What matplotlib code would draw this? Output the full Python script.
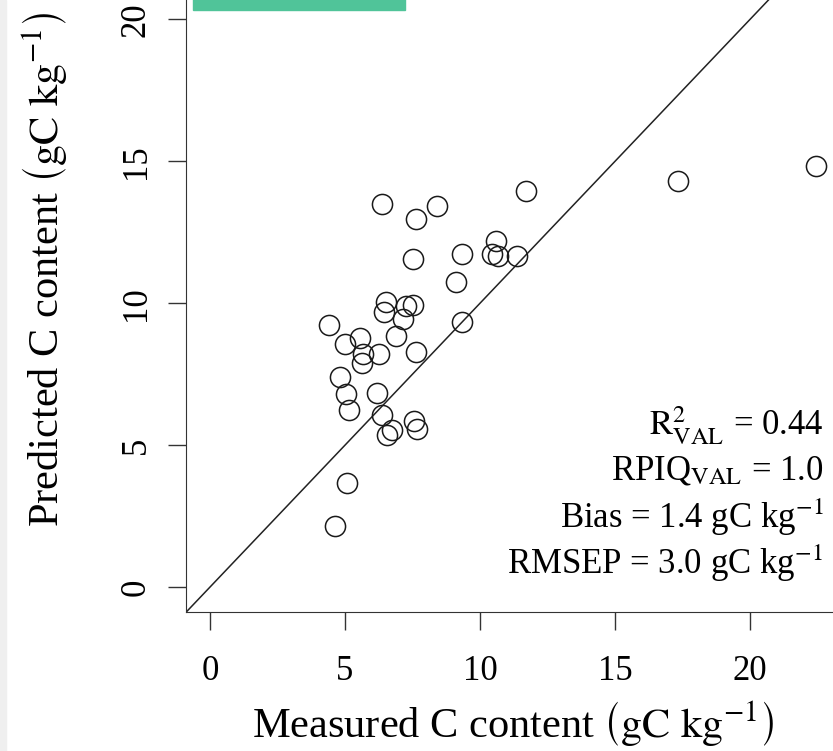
import matplotlib
matplotlib.use("Agg")
import matplotlib.pyplot as plt
import numpy as np

plt.rcParams['font.family'] = ['Liberation Serif', 'DejaVu Serif']
plt.rcParams['mathtext.fontset'] = 'stix'

# valeurs
mesure = [22.44, 17.34, 11.70, 6.35, 8.41, 7.62, 10.59, 9.34, 10.46, 10.65,
          11.37, 7.53, 9.11, 6.50, 6.46, 7.27, 7.53, 7.16, 9.34, 4.39,
          6.90, 4.98, 5.54, 5.68, 6.24, 5.61, 7.64, 4.80, 5.05, 5.16,
          6.18, 6.38, 7.57, 7.68, 6.75, 6.57, 5.09, 4.61]
predit = [14.84, 14.32, 13.96, 13.49, 13.44, 12.98, 12.18, 11.72, 11.72, 11.65,
          11.65, 11.56, 10.74, 10.05, 9.70, 9.89, 9.93, 9.44, 9.33, 9.23,
          8.84, 8.56, 8.77, 8.21, 8.21, 7.90, 8.28, 7.40, 6.81, 6.25,
          6.84, 6.07, 5.86, 5.58, 5.54, 5.36, 3.68, 2.14]

ticks = [0, 5, 10, 15, 20]
stats = [r"$\mathrm{R}^{2}_{\mathrm{VAL}}$ = 0.44",
         r"RPIQ$_{\mathrm{VAL}}$ = 1.0",
         r"Bias = 1.4 gC kg$^{\mathrm{-1}}$",
         r"RMSEP = 3.0 gC kg$^{\mathrm{-1}}$"]

fig = plt.figure(figsize=(8.33, 7.51), dpi=100)
# bande grise a gauche
fig.patches.append(plt.Rectangle((0, 0), 6 / 833, 1, transform=fig.transFigure,
                                 color='#efefef', zorder=0))

ax = fig.add_axes([186 / 833, 139 / 751, 647 / 833, 612 / 751])
ax.set_xlim(-0.89, 23.07)
ax.set_ylim(-0.88, 20.68)

# droite 1:1
ax.plot([-1, 25], [-1, 25], color='#222222', lw=1.1)

ax.plot(mesure, predit, 'o', mfc='none', mec='#1a1a1a', ms=14.5, mew=1.1)

# bout de barre verte en haut (coupée)
ax.add_patch(plt.Rectangle((-0.63, 20.33), 7.86, 1, color='#50c499', clip_on=True))

ax.spines['top'].set_visible(False)
ax.spines['right'].set_visible(False)
ax.spines['left'].set_color('#333333')
ax.spines['bottom'].set_color('#333333')
ax.set_xticks(ticks)
ax.set_yticks(ticks)
ax.tick_params(length=13, width=1, color='#333333', labelsize=25)
ax.tick_params(axis='x', pad=18)
ax.tick_params(axis='y', pad=11)
for lab in ax.get_yticklabels():
    lab.set_rotation(90)
    lab.set_va('center')

ax.set_xlabel(r"Measured C content $\left(\mathrm{gC\ kg^{-1}}\right)$", fontsize=30.5)
ax.set_ylabel(r"Predicted C content $\left(\mathrm{gC\ kg^{-1}}\right)$", fontsize=30.5)
ax.xaxis.set_label_coords(0.505, -0.183)
ax.yaxis.set_label_coords(-0.218, 0.559)
ax.xaxis.label.set_va('center')
ax.yaxis.label.set_va('center')

ys = [0.305, 0.23, 0.155, 0.08]
for s, yy in zip(stats, ys):
    ax.text(0.985, yy, s, transform=ax.transAxes, ha='right', va='center', fontsize=25)

fig.savefig('out.png', dpi=100)
